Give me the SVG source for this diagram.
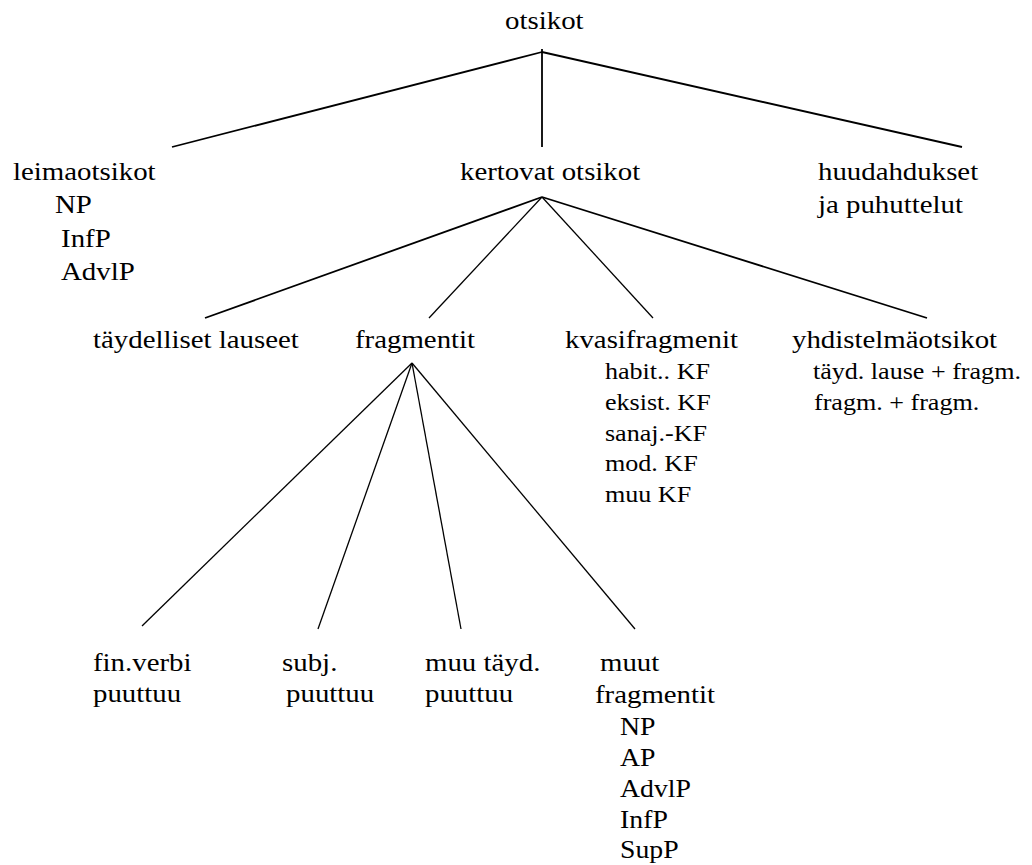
<svg xmlns="http://www.w3.org/2000/svg" width="1032" height="865" viewBox="0 0 1032 865">
<style>
  text { font-family: "Liberation Serif", "Times New Roman", serif; fill: #000; }
  .m { font-size: 26px; }
  .s { font-size: 23.5px; }
  .f { font-size: 25px; }
  .c1 { stroke: #000; stroke-width: 1.8; fill: none; }
  .c2 { stroke: #000; stroke-width: 1.3; fill: none; }
</style>
<rect width="1032" height="865" fill="#fff"/>
<g id="connectors">
  <line class="c1" x1="542" y1="49" x2="542" y2="147"/>
  <line class="c1" x1="542" y1="52" x2="172" y2="147"/>
  <line class="c1" x1="542" y1="52" x2="962" y2="147"/>
  <line class="c1" x1="542" y1="197" x2="205" y2="318"/>
  <line class="c2" x1="542" y1="197" x2="429" y2="318"/>
  <line class="c2" x1="542" y1="197" x2="653" y2="318"/>
  <line class="c1" x1="542" y1="197" x2="927" y2="318"/>
  <line class="c2" x1="412" y1="363" x2="142" y2="626"/>
  <line class="c2" x1="412" y1="363" x2="318" y2="629"/>
  <line class="c2" x1="412" y1="363" x2="461" y2="629"/>
  <line class="c2" x1="412" y1="363" x2="635" y2="629"/>
</g>
<g transform="scale(1.11,1)">
  <g id="otsikot"><text class="m" x="455" y="29">otsikot</text></g>
  <g id="leimaotsikot">
    <text class="m" x="11.7" y="180">leimaotsikot</text>
    <text class="m" x="49.5" y="213">NP</text>
    <text class="m" x="55" y="247">InfP</text>
    <text class="m" x="55" y="280">AdvlP</text>
  </g>
  <g id="kertovat"><text class="m" x="414.4" y="180">kertovat otsikot</text></g>
  <g id="huudahdukset">
    <text class="m" x="736.9" y="180">huudahdukset</text>
    <text class="m" x="736.9" y="213">ja puhuttelut</text>
  </g>
  <g id="taydelliset"><text class="m" x="83.8" y="348">täydelliset lauseet</text></g>
  <g id="fragmentit"><text class="m" x="319.8" y="348">fragmentit</text></g>
  <g id="kvasifragmenit">
    <text class="m" x="509" y="348">kvasifragmenit</text>
    <text class="s" x="545" y="379">habit.. KF</text>
    <text class="s" x="545" y="410">eksist. KF</text>
    <text class="s" x="545" y="441">sanaj.-KF</text>
    <text class="s" x="545" y="471">mod. KF</text>
    <text class="s" x="545" y="502">muu KF</text>
  </g>
  <g id="yhdistelma">
    <text class="m" x="713.5" y="348">yhdistelmäotsikot</text>
    <text class="s" x="732.4" y="379">täyd. lause + fragm.</text>
    <text class="s" x="733.3" y="410">fragm. + fragm.</text>
  </g>
  <g id="finverbi">
    <text class="m" x="83.8" y="671">fin.verbi</text>
    <text class="m" x="83.8" y="702">puuttuu</text>
  </g>
  <g id="subj">
    <text class="m" x="254.1" y="671">subj.</text>
    <text class="m" x="257.7" y="702">puuttuu</text>
  </g>
  <g id="muutayd">
    <text class="m" x="382.9" y="671">muu täyd.</text>
    <text class="m" x="382.9" y="702">puuttuu</text>
  </g>
  <g id="muutfragmentit">
    <text class="m" x="540.5" y="671">muut</text>
    <text class="m" x="536" y="703">fragmentit</text>
    <text class="f" x="558.6" y="735">NP</text>
    <text class="f" x="558.6" y="766">AP</text>
    <text class="f" x="558.6" y="797">AdvlP</text>
    <text class="f" x="558.6" y="828">InfP</text>
    <text class="f" x="558.6" y="858">SupP</text>
  </g>
</g>
</svg>
